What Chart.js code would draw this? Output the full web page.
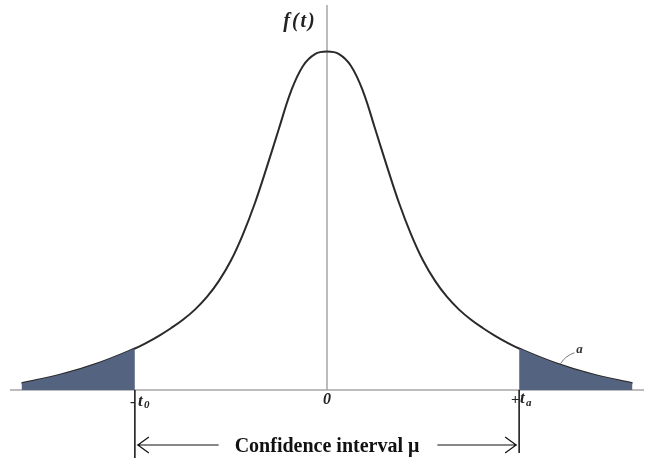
<!DOCTYPE html>
<html>
<head>
<meta charset="utf-8">
<script src="https://cdn.jsdelivr.net/npm/chart.js@4"></script>
<style>
  body { margin: 0; background: #fff; }
  canvas { display: block; }
</style>
</head>
<body>
<canvas id="chart" width="647" height="463"></canvas>
<script>
// t values and density
const tValues = [-3.18, -2.75, -2.375, -2.0, -1.875, -1.75, -1.625, -1.5, -1.375, -1.25, -1.125, -1.0, -0.875, -0.75, -0.625, -0.5, -0.375, -0.25, -0.125, 0,
                 0.125, 0.25, 0.375, 0.5, 0.625, 0.75, 0.875, 1.0, 1.125, 1.25, 1.375, 1.5, 1.625, 1.75, 1.875, 2.0, 2.375, 2.75, 3.18];
const fValues = [0.008, 0.019, 0.032, 0.049, 0.056, 0.064, 0.073, 0.083, 0.095, 0.110, 0.129, 0.153, 0.184, 0.221, 0.264, 0.309, 0.353, 0.383, 0.397, 0.400,
                 0.397, 0.383, 0.353, 0.309, 0.264, 0.221, 0.184, 0.153, 0.129, 0.110, 0.095, 0.083, 0.073, 0.064, 0.056, 0.049, 0.032, 0.019, 0.008];
const tCrit = 2.0;
const yLabel = 'f(t)';
const intervalLabel = 'Confidence interval μ';
const tailLabel = 'a';

const curve = tValues.map((t, i) => ({ x: t, y: fValues[i] }));
const leftTail = curve.filter(p => p.x <= -tCrit);
const rightTail = curve.filter(p => p.x >= tCrit);

const tailColor = 'rgb(84, 99, 128)';
const serif = '"Liberation Serif", "DejaVu Serif", serif';

const decorations = {
    id: 'decorations',
    beforeDatasetsDraw(chart) {
        const { ctx, scales: { x, y } } = chart;
        const y0 = y.getPixelForValue(0);
        const x0 = x.getPixelForValue(0);
        ctx.save();
        ctx.strokeStyle = '#a6a6a6';
        ctx.lineWidth = 1.5;
        ctx.beginPath();
        ctx.moveTo(x.left, y0);
        ctx.lineTo(x.right, y0);
        ctx.moveTo(x0, y.top);
        ctx.lineTo(x0, y0);
        ctx.stroke();
        ctx.restore();
    },
    afterDraw(chart) {
        const { ctx, scales: { x, y } } = chart;
        const y0 = y.getPixelForValue(0);
        const x0 = x.getPixelForValue(0);
        const xl = x.getPixelForValue(-tCrit);
        const xr = x.getPixelForValue(tCrit);
        ctx.save();

        // interval boundary lines
        ctx.strokeStyle = '#111';
        ctx.lineWidth = 1.5;
        ctx.beginPath();
        ctx.moveTo(xl, y0);
        ctx.lineTo(xl, y0 + 68);
        ctx.moveTo(xr, y0);
        ctx.lineTo(xr, y0 + 63);
        ctx.stroke();

        // arrows and label
        const ay = y0 + 55;
        ctx.font = 'bold 20px ' + serif;
        ctx.textAlign = 'center';
        ctx.textBaseline = 'middle';
        ctx.fillStyle = '#111';
        ctx.fillText(intervalLabel, x0, ay + 2);
        const half = ctx.measureText(intervalLabel).width / 2;
        ctx.lineWidth = 1.2;
        ctx.beginPath();
        ctx.moveTo(xl + 2, ay);
        ctx.lineTo(x0 - half - 16, ay);
        ctx.moveTo(x0 + half + 18, ay);
        ctx.lineTo(xr - 2, ay);
        ctx.moveTo(xl + 14, ay - 8);
        ctx.lineTo(xl + 3, ay);
        ctx.lineTo(xl + 14, ay + 8);
        ctx.moveTo(xr - 14, ay - 8);
        ctx.lineTo(xr - 3, ay);
        ctx.lineTo(xr - 14, ay + 8);
        ctx.stroke();

        // axis labels
        ctx.fillStyle = '#222';
        ctx.font = 'italic bold 20px ' + serif;
        ctx.letterSpacing = '2px';
        ctx.fillText(yLabel, x0 - 27, y.top + 17);
        ctx.letterSpacing = '0px';
        ctx.font = 'italic bold 16px ' + serif;
        ctx.fillText('0', x0, y0 + 10);

        ctx.textAlign = 'left';
        ctx.font = 'bold 15px ' + serif;
        ctx.fillText('-', xl - 5, y0 + 12);
        ctx.fillText('+', xr - 8, y0 + 10);
        ctx.font = 'italic bold 17px ' + serif;
        ctx.fillText('t', xl + 3, y0 + 12);
        ctx.fillText('t', xr + 1, y0 + 9);
        ctx.font = 'italic bold 11px ' + serif;
        ctx.fillText('0', xl + 9, y0 + 15);
        ctx.fillText('a', xr + 7, y0 + 13);

        // tail annotation
        const px = x.getPixelForValue(2.43);
        const py = y.getPixelForValue(0.031);
        ctx.strokeStyle = '#777';
        ctx.lineWidth = 1;
        ctx.beginPath();
        ctx.moveTo(px, py);
        ctx.quadraticCurveTo(px + 5, py - 8, px + 14, py - 11);
        ctx.stroke();
        ctx.textAlign = 'center';
        ctx.font = 'italic bold 13px ' + serif;
        ctx.fillStyle = '#333';
        ctx.fillText(tailLabel, px + 19, py - 14);
        ctx.restore();
    }
};

const lineStyle = { showLine: true, pointRadius: 0, tension: 0.4 };

new Chart(document.getElementById('chart'), {
    type: 'scatter',
    data: {
        datasets: [
            { ...lineStyle, data: leftTail, fill: 'origin', backgroundColor: tailColor, borderWidth: 0 },
            { ...lineStyle, data: rightTail, fill: 'origin', backgroundColor: tailColor, borderWidth: 0 },
            { ...lineStyle, data: curve, fill: false, borderColor: '#2a2a2a', borderWidth: 2 }
        ]
    },
    options: {
        responsive: false,
        animation: false,
        layout: { padding: { left: 10, right: 3, top: 5, bottom: 73 } },
        plugins: {
            legend: { display: false },
            tooltip: { enabled: false }
        },
        scales: {
            x: { type: 'linear', min: -3.3, max: 3.3, display: false },
            y: { min: 0, max: 0.455, display: false }
        }
    },
    plugins: [decorations]
});
</script>
</body>
</html>
